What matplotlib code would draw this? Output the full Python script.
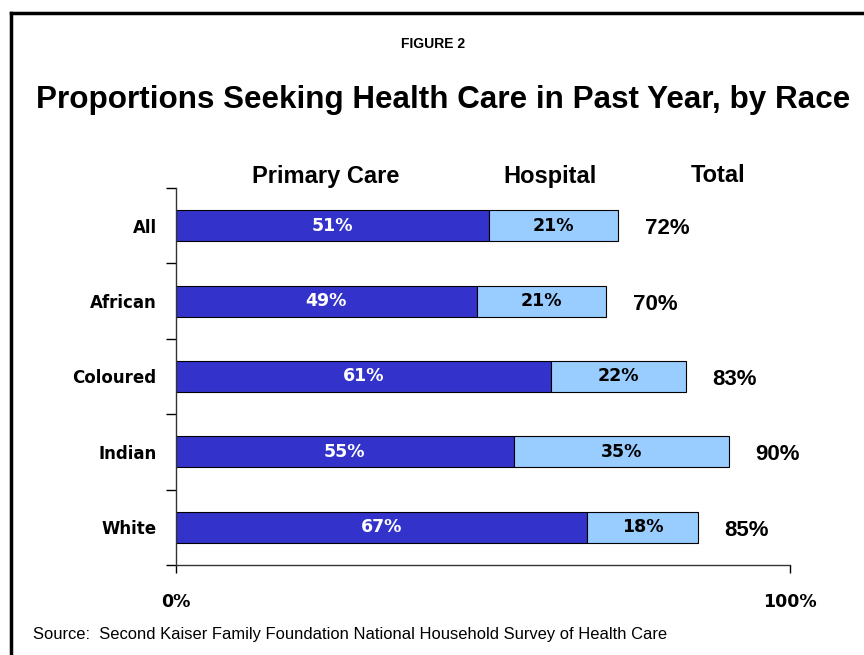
import numpy as np
import matplotlib.pyplot as plt
from matplotlib.lines import Line2D

# Share of people seeking care in the past year, by race (percent)
races = ['All', 'African', 'Coloured', 'Indian', 'White']
primary_care = [51, 49, 61, 55, 67]
hospital = [21, 21, 22, 35, 18]
totals = [72, 70, 83, 90, 85]

plt.rcParams['font.family'] = ['Liberation Sans', 'DejaVu Sans']

fig = plt.figure(figsize=(8.64, 6.55), dpi=100)
ax = fig.add_axes([0.2037, 0.1374, 0.7106, 0.5756])

y = np.arange(len(races))
dark = '#3333cc'
light = '#99ccff'
h = 0.41

ax.barh(y, primary_care, height=h, color=dark, edgecolor='black', linewidth=0.8)
ax.barh(y, hospital, left=primary_care, height=h, color=light,
        edgecolor='black', linewidth=0.8)

for i in range(len(races)):
    ax.text(primary_care[i] / 2, y[i], f'{primary_care[i]}%', color='white',
            ha='center', va='center', fontsize=12.5, fontweight='bold',
            family='DejaVu Sans')
    ax.text(primary_care[i] + hospital[i] / 2, y[i], f'{hospital[i]}%',
            color='black', ha='center', va='center', fontsize=12.5,
            fontweight='bold', family='DejaVu Sans')
    ax.text(totals[i] + 8, y[i] + 0.04, f'{totals[i]}%', ha='center',
            va='center', fontsize=16, fontweight='bold')

ax.set_xlim(0, 100)
ax.set_ylim(len(races) - 0.5, -0.5)
ax.set_xticks([0, 100])
ax.set_xticklabels(['0%', '100%'], fontsize=12.5, fontweight='bold',
                   family='DejaVu Sans')
ax.set_yticks(y)
ax.set_yticklabels(races, fontsize=12, fontweight='bold', family='DejaVu Sans')
ax.set_yticks(np.arange(-0.5, len(races)), minor=True)
ax.tick_params(axis='y', which='major', length=0, pad=14)
ax.tick_params(axis='y', which='minor', length=7, width=1, direction='out')
ax.tick_params(axis='x', length=6, width=1, direction='out', pad=14)
for side in ['top', 'right']:
    ax.spines[side].set_visible(False)
for side in ['left', 'bottom']:
    ax.spines[side].set_color('#333333')
    ax.spines[side].set_linewidth(1)

# column headers above the bars
fig.text(326 / 864, 1 - 177 / 655, 'Primary Care', ha='center', va='center',
         fontsize=17, fontweight='bold')
fig.text(550 / 864, 1 - 176 / 655, 'Hospital', ha='center', va='center',
         fontsize=17, fontweight='bold')
fig.text(718 / 864, 1 - 176 / 655, 'Total', ha='center', va='center',
         fontsize=17, fontweight='bold')

fig.text(433 / 864, 1 - 44 / 655, 'FIGURE 2', ha='center', va='center',
         fontsize=10, fontweight='bold')
fig.text(443 / 864, 1 - 100 / 655, 'Proportions Seeking Health Care in Past Year, by Race',
         ha='center', va='center', fontsize=22.6, fontweight='bold')
fig.text(33 / 864, 1 - 634 / 655,
         'Source:  Second Kaiser Family Foundation National Household Survey of Health Care',
         ha='left', va='center', fontsize=11.9)

# frame lines along the top and left edge
fig.add_artist(Line2D([11 / 864, 11 / 864], [0, 1 - 13 / 655],
                      transform=fig.transFigure, color='black', linewidth=2.5))
fig.add_artist(Line2D([11 / 864, 1], [1 - 13 / 655, 1 - 13 / 655],
                      transform=fig.transFigure, color='black', linewidth=2.5))

fig.savefig('out.png', dpi=100)
